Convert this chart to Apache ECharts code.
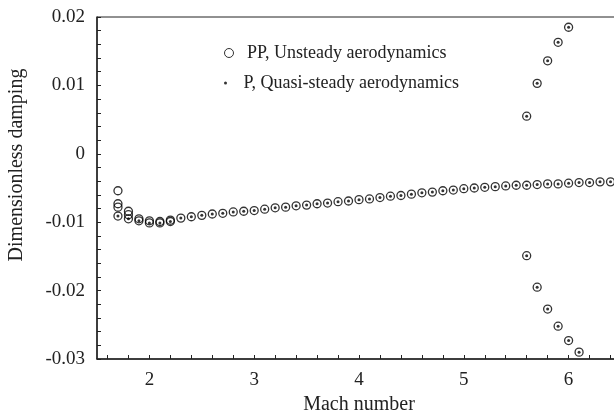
<!DOCTYPE html>
<html>
<head>
<meta charset="utf-8">
<script src="https://cdn.jsdelivr.net/npm/echarts@6.0.0/dist/echarts.min.js"></script>
<style>
  html, body { margin: 0; padding: 0; background: #fff; }
  #chart { width: 614px; height: 419px; }
</style>
</head>
<body>
<div id="chart"></div>
<script>
  // main branch
  const machMain = [1.7, 1.8, 1.9, 2.0, 2.1, 2.2, 2.3, 2.4, 2.5, 2.6, 2.7, 2.8, 2.9,
    3.0, 3.1, 3.2, 3.3, 3.4, 3.5, 3.6, 3.7, 3.8, 3.9,
    4.0, 4.1, 4.2, 4.3, 4.4, 4.5, 4.6, 4.7, 4.8, 4.9,
    5.0, 5.1, 5.2, 5.3, 5.4, 5.5, 5.6, 5.7, 5.8, 5.9,
    6.0, 6.1, 6.2, 6.3, 6.4];
  const dampMain = [-0.0091, -0.0095, -0.0098, -0.0101, -0.0101, -0.0099, -0.0094, -0.0092, -0.0090, -0.0088, -0.0087, -0.0085, -0.0084,
    -0.0083, -0.0081, -0.0079, -0.0078, -0.0076, -0.0075, -0.0073, -0.0072, -0.0070, -0.0069,
    -0.0067, -0.0066, -0.0064, -0.0062, -0.0061, -0.0059, -0.0057, -0.0056, -0.0054, -0.0053,
    -0.0051, -0.0050, -0.0049, -0.0048, -0.0047, -0.0046, -0.0046, -0.0045, -0.0044, -0.0044,
    -0.0043, -0.0042, -0.0042, -0.0041, -0.0041];

  // extra unsteady points at low Mach
  const machExtra = [1.7, 1.7, 1.7, 1.8, 1.8, 1.9, 2.0, 2.1, 2.2];
  const dampExtra = [-0.0054, -0.0073, -0.0078, -0.0084, -0.0089, -0.0095, -0.0098, -0.0099, -0.0097];

  // split branches at high Mach
  const machUpper = [5.6, 5.7, 5.8, 5.9, 6.0];
  const dampUpper = [0.0055, 0.0103, 0.0136, 0.0163, 0.0185];
  const machLower = [5.6, 5.7, 5.8, 5.9, 6.0, 6.1];
  const dampLower = [-0.0149, -0.0195, -0.0227, -0.0252, -0.0273, -0.0290];

  const xTicks = [1.6, 1.8, 2.0, 2.2, 2.4, 2.6, 2.8, 3.0, 3.2, 3.4, 3.6, 3.8, 4.0, 4.2, 4.4,
    4.6, 4.8, 5.0, 5.2, 5.4, 5.6, 5.8, 6.0, 6.2, 6.4];
  const xLabels = [2, 3, 4, 5, 6];
  const yTicks = [-0.03, -0.028, -0.026, -0.024, -0.022, -0.02, -0.018, -0.016, -0.014, -0.012,
    -0.01, -0.008, -0.006, -0.004, -0.002, 0, 0.002, 0.004, 0.006, 0.008,
    0.01, 0.012, 0.014, 0.016, 0.018, 0.02];
  const yLabels = [-0.03, -0.02, -0.01, 0, 0.01, 0.02];

  const pairs = (xs, ys) => xs.map((x, i) => [x, ys[i]]);

  const unsteadyData = pairs(machMain, dampMain)
    .concat(pairs(machExtra, dampExtra))
    .concat(pairs(machUpper, dampUpper))
    .concat(pairs(machLower, dampLower));
  const quasiData = pairs(machMain, dampMain)
    .concat(pairs(machUpper, dampUpper))
    .concat(pairs(machLower, dampLower));

  const font = 'Liberation Serif';
  const ink = '#222';

  let myChart = echarts.init(document.getElementById('chart'));

  let option = {
    animation: false,
    backgroundColor: '#fff',
    grid: {
      left: 97,
      top: 17,
      right: -7,
      bottom: 60,
      show: true,
      borderColor: ink,
      borderWidth: 1,
      outerBoundsMode: 'none'
    },
    legend: [{
      data: ['PP, Unsteady aerodynamics'],
      left: 219,
      top: 39,
      itemWidth: 26,
      itemHeight: 9,
      itemStyle: { color: 'transparent', borderColor: '#000', borderWidth: 1 },
      textStyle: { fontFamily: font, fontSize: 18, color: ink }
    }, {
      data: ['P, Quasi-steady aerodynamics'],
      left: 219,
      top: 69,
      itemWidth: 26,
      itemHeight: 3,
      itemStyle: { color: '#000', borderWidth: 0 },
      textStyle: { fontFamily: font, fontSize: 18, color: ink }
    }],
    xAxis: {
      type: 'value',
      min: 1.5,
      max: 6.5,
      name: 'Mach number',
      nameLocation: 'middle',
      nameGap: 26,
      nameTextStyle: { fontFamily: font, fontSize: 20, color: ink },
      axisLine: { onZero: false, lineStyle: { color: ink, width: 1.5 } },
      axisTick: { inside: true, length: 4, customValues: xTicks, lineStyle: { color: ink } },
      axisLabel: { customValues: xLabels, margin: 12, fontFamily: font, fontSize: 19, color: ink },
      splitLine: { show: false }
    },
    yAxis: {
      type: 'value',
      min: -0.03,
      max: 0.02,
      name: 'Dimensionless damping',
      nameLocation: 'middle',
      nameGap: 70,
      nameTextStyle: { fontFamily: font, fontSize: 20, color: ink, padding: [0, 0, 0, 46] },
      axisLine: { onZero: false, lineStyle: { color: ink, width: 1.5 } },
      axisTick: { inside: true, length: 4, customValues: yTicks, lineStyle: { color: ink } },
      axisLabel: {
        customValues: yLabels,
        margin: 12,
        fontFamily: font,
        fontSize: 19,
        color: ink,
        formatter: v => (Math.abs(v) < 1e-9 ? '0' : v.toFixed(2))
      },
      splitLine: { show: false }
    },
    series: [{
      name: 'PP, Unsteady aerodynamics',
      type: 'scatter',
      symbol: 'circle',
      symbolSize: 8,
      itemStyle: { color: 'transparent', borderColor: '#000', borderWidth: 1.3 },
      emphasis: { disabled: true },
      data: unsteadyData
    }, {
      name: 'P, Quasi-steady aerodynamics',
      type: 'scatter',
      symbol: 'circle',
      symbolSize: 3,
      itemStyle: { color: '#000' },
      emphasis: { disabled: true },
      data: quasiData
    }]
  };

  myChart.setOption(option);
</script>
</body>
</html>
